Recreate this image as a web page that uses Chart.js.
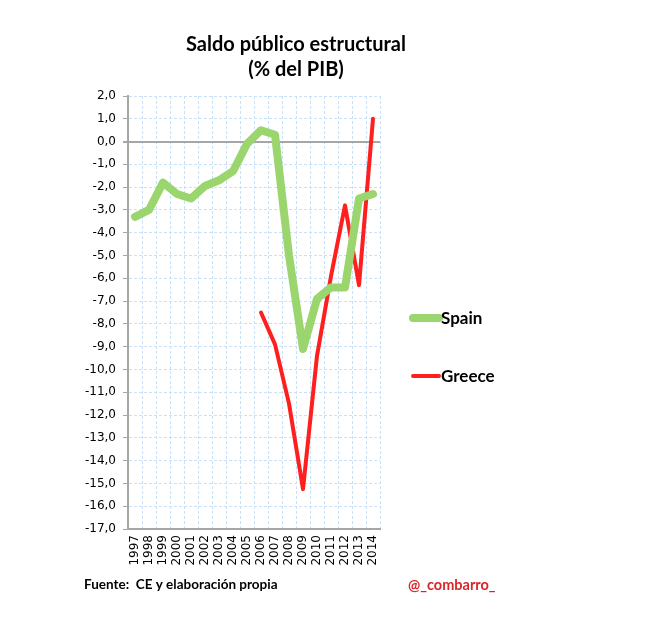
<!DOCTYPE html>
<html>
<head>
<meta charset="utf-8">
<script src="https://cdn.jsdelivr.net/npm/chart.js@4.4.1/dist/chart.umd.min.js"></script>
<style>
  html, body { margin: 0; padding: 0; background: #fff; }
  #wrap { position: relative; width: 648px; height: 628px; }
</style>
</head>
<body>
<div id="wrap"><canvas id="saldoChart" width="648" height="628"></canvas></div>
<script>
// years on the x axis
const years = ["1997", "1998", "1999", "2000", "2001", "2002", "2003", "2004", "2005",
   "2006", "2007", "2008", "2009", "2010", "2011", "2012", "2013", "2014"];

// structural balance, % of GDP
const spain = [-3.3, -3.0, -1.8, -2.3, -2.5, -1.95, -1.7, -1.3, -0.1,
   0.5, 0.3, -5.0, -9.1, -6.9, -6.4, -6.4, -2.5, -2.3];
const greece = [null, null, null, null, null, null, null, null, null,
   -7.5, -8.9, -11.5, -15.25, -9.4, -5.9, -2.8, -6.3, 1.0];

const titleLines = ["Saldo público estructural", "(% del PIB)"];
const sourceText = "Fuente:  CE y elaboración propia";
const handleText = "@_combarro_";

const textFont = "Lato, 'Open Sans', sans-serif";
const tickFont = "'DejaVu Sans', sans-serif";

// legend, title and footer drawn by hand
const extras = {
   id: "extras",
   afterDraw(chart) {
      const ctx = chart.ctx;
      ctx.save();
      ctx.fillStyle = "#000";
      ctx.textAlign = "center";
      ctx.textBaseline = "middle";
      ctx.font = "bold 20px " + textFont;
      ctx.fillText(titleLines[0], 296, 45);
      ctx.fillText(titleLines[1], 296, 70);

      // legend
      const legendY = [318, 376];
      chart.data.datasets.forEach(function (ds, i) {
         ctx.strokeStyle = ds.borderColor;
         ctx.lineWidth = ds.borderWidth;
         ctx.lineCap = "round";
         ctx.beginPath();
         ctx.moveTo(413, legendY[i]);
         ctx.lineTo(439, legendY[i]);
         ctx.stroke();
         ctx.fillStyle = "#000";
         ctx.textAlign = "left";
         ctx.font = "bold 17px " + textFont;
         ctx.fillText(ds.label, 441, legendY[i] + 1);
      });

      // footer
      ctx.font = "bold 13.5px " + textFont;
      ctx.textAlign = "left";
      ctx.fillStyle = "#000";
      ctx.fillText(sourceText, 84, 585);
      ctx.fillStyle = "#d9262b";
      ctx.font = "bold 14.5px " + textFont;
      ctx.fillText(handleText, 408, 585);
      ctx.restore();
   },
};

const saldochart = document.getElementById("saldoChart").getContext("2d");

const saldoChart = new Chart(saldochart, {
   type: "line",
   data: {
      labels: years,
      datasets: [
         {
            label: "Spain",
            data: spain,
            borderColor: "#9bd56e",
            backgroundColor: "#9bd56e",
            borderWidth: 8,
            borderCapStyle: "round",
            borderJoinStyle: "round",
            pointRadius: 0,
            tension: 0,
         },
         {
            label: "Greece",
            data: greece,
            borderColor: "#ff1f1f",
            backgroundColor: "#ff1f1f",
            borderWidth: 4,
            borderCapStyle: "round",
            borderJoinStyle: "round",
            pointRadius: 0,
            tension: 0,
            spanGaps: false,
         },
      ],
   },
   options: {
      responsive: false,
      animation: false,
      layout: {
         padding: { left: 0, right: 268, top: 96, bottom: 58 },
      },
      plugins: {
         legend: { display: false },
         title: { display: false },
         tooltip: { enabled: false },
      },
      scales: {
         x: {
            type: "category",
            offset: true,
            grid: {
               offset: true,
               color: "#c8e0f8",
               drawTicks: false,
            },
            border: { display: true, color: "#a6a6a6", width: 2, dash: [3, 2] },
            ticks: {
               autoSkip: false,
               minRotation: 90,
               maxRotation: 90,
               padding: 6,
               color: "#000",
               font: { family: tickFont, size: 12 },
            },
            afterFit: function (scale) {
               scale.height = 41;
            },
         },
         y: {
            min: -17,
            max: 2,
            grid: {
               color: function (c) {
                  return c.tick && c.tick.value === 0 ? "#a6a6a6" : "#c8e0f8";
               },
               lineWidth: function (c) {
                  return c.tick && c.tick.value === 0 ? 2 : 1;
               },
               tickColor: "#a6a6a6",
               tickLength: 5,
               tickBorderDash: [],
            },
            border: {
               display: true,
               color: "#a6a6a6",
               width: 2,
               dash: function (c) {
                  return c.tick && c.tick.value === 0 ? [] : [3, 2];
               },
            },
            ticks: {
               stepSize: 1,
               padding: 7,
               color: "#000",
               font: { family: tickFont, size: 12 },
               callback: function (v) {
                  return v.toFixed(1).replace(".", ",");
               },
            },
            afterFit: function (scale) {
               scale.width = 128;
            },
         },
      },
   },
   plugins: [extras],
});
</script>
</body>
</html>
